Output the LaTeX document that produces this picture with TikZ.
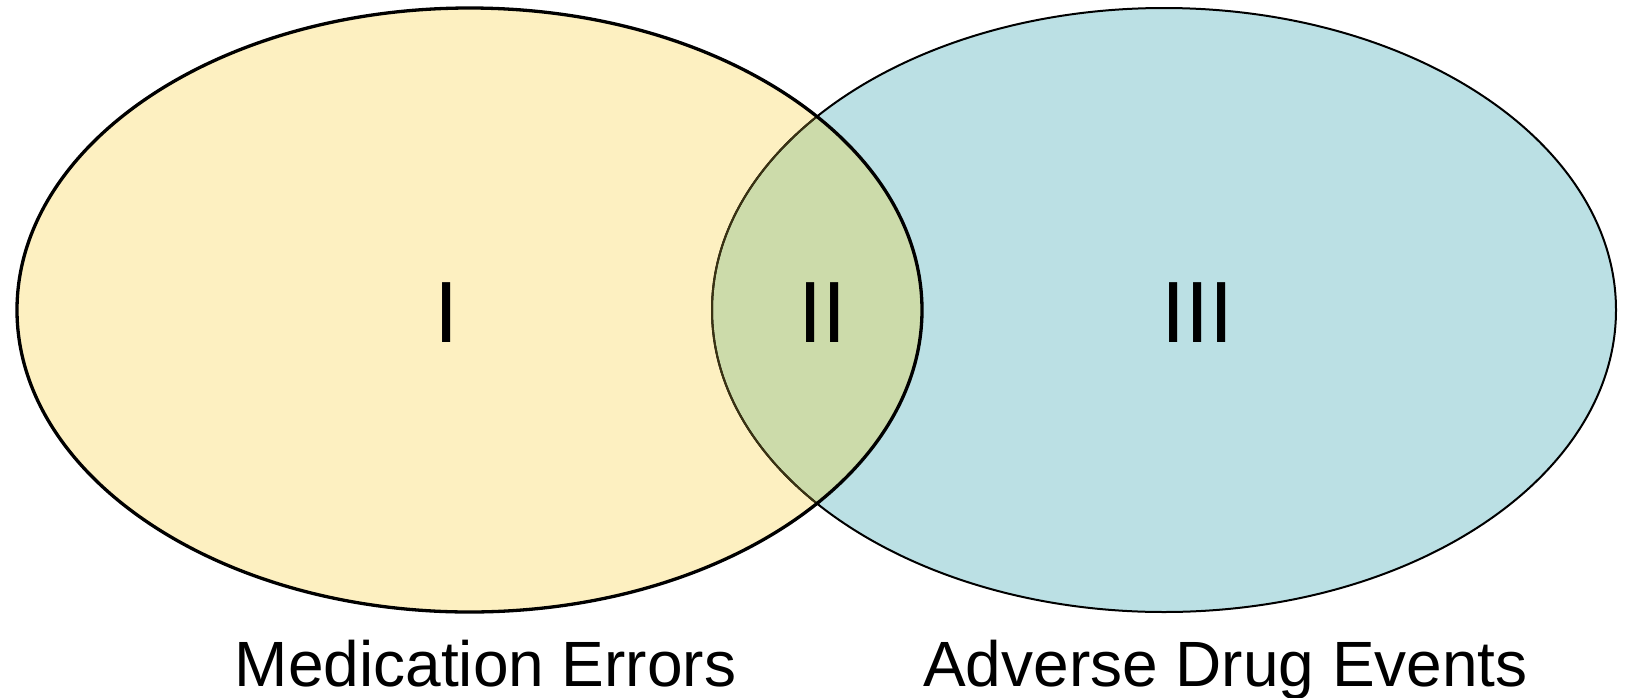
\documentclass[tikz,border=0pt]{standalone}
\usepackage{fontspec}
\setmainfont{Liberation Sans}
\definecolor{meyellow}{HTML}{FDF0C1}
\definecolor{adeblue}{HTML}{BBE0E4}
\definecolor{lensgreen}{HTML}{CCDBAA}
\definecolor{olivedark}{HTML}{3A3212}
\tikzset{
  numeral/.style={anchor=base, inner sep=0pt, font=\fontsize{87}{87}\selectfont},
  caption/.style={anchor=base, inner sep=0pt, font=\fontsize{64}{64}\selectfont},
}
\begin{document}
\begin{tikzpicture}[x=1pt,y=-1pt]
\useasboundingbox (0,0) rectangle (1626,697);
\def\leftell{(469.5,310) ellipse [x radius=452.5, y radius=302]}
\def\rightell{(1164,310) ellipse [x radius=452, y radius=302]}
% fills
\fill[adeblue] \rightell;
\fill[meyellow] \leftell;
\begin{scope}
  \clip \leftell;
  \fill[lensgreen] \rightell;
\end{scope}
% outlines
\draw[black, line width=2pt] \rightell;
\begin{scope}
  \clip \leftell;
  \draw[olivedark, line width=2pt] \rightell;
\end{scope}
\draw[black, line width=3.3pt] \leftell;
% labels
\node[numeral] (one) at (446.5,342) {I};
\node[numeral] (two) at (822.5,342) {II};
\node[numeral] (three) at (1197.5,342) {III};
\node[caption] (me) at (485.5,686) {Medication Errors};
\node[caption] (ade) at (1225.5,686) {Adverse Drug Events};
\end{tikzpicture}
\end{document}
